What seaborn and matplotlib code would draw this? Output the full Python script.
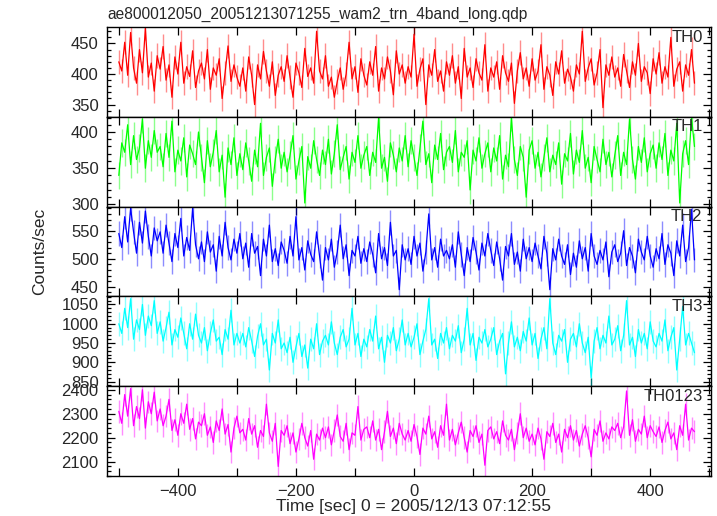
import numpy as np
import pandas as pd
import matplotlib
matplotlib.use("Agg")
import matplotlib.pyplot as plt
import seaborn as sns
from matplotlib.ticker import MultipleLocator

title = "ae800012050_20051213071255_wam2_trn_4band_long.qdp"
band_names = ["TH0", "TH1", "TH2", "TH3", "TH0123"]
band_colors = ["#ff0000", "#00ff00", "#0000ff", "#00ffff", "#ff00ff"]
xlabel = "Time [sec] 0 = 2005/12/13 07:12:55"
ylabel = "Counts/sec"

# bin centres (5 s bins)
time_sec = np.arange(-500, 480, 5)

th0 = [420, 405, 452, 398, 468, 410, 385, 440, 402, 475, 395, 418, 372, 430,
       408, 445, 390, 415, 362, 428, 400, 452, 385, 412, 396, 438, 378, 405,
       418, 392, 440, 375, 410, 398, 425, 360, 402, 446, 388, 415, 395, 380,
       410, 372, 428, 398, 350, 415, 392, 437, 405, 380, 420, 365, 398, 412,
       388, 430, 395, 362, 418, 402, 378, 442, 396, 410, 385, 470, 405, 392,
       430, 380, 395, 362, 388, 410, 375, 400, 452, 392, 412, 370, 425, 398,
       382, 420, 398, 445, 372, 410, 392, 428, 405, 366, 438, 400, 415, 385,
       412, 395, 465, 380, 408, 425, 350, 415, 398, 440, 388, 405, 372, 420,
       398, 430, 385, 412, 360, 442, 395, 410, 378, 425, 402, 390, 448, 372,
       410, 395, 420, 375, 430, 402, 388, 418, 352, 405, 435, 392, 410, 380,
       425, 390, 405, 448, 375, 412, 398, 365, 420, 400, 438, 385, 408, 395,
       372, 415, 400, 470, 388, 410, 425, 382, 402, 440, 345, 415, 398, 428,
       395, 410, 380, 432, 405, 378, 420, 398, 450, 388, 412, 402, 368, 425,
       400, 435, 385, 412, 395, 460, 380, 408, 420, 372, 415, 398, 440, 385]

th1 = [340, 385, 372, 410, 355, 395, 362, 378, 418, 350, 388, 365, 402, 372,
       380, 352, 398, 365, 415, 345, 375, 360, 392, 338, 382, 370, 355, 400,
       365, 330, 388, 352, 372, 402, 345, 368, 310, 378, 355, 392, 340, 370,
       348, 385, 360, 332, 375, 352, 412, 340, 365, 378, 325, 362, 390, 350,
       372, 345, 368, 395, 335, 360, 380, 302, 366, 350, 388, 362, 340, 375,
       355, 390, 342, 370, 410, 348, 365, 380, 335, 372, 358, 395, 350, 368,
       380, 340, 372, 358, 420, 350, 365, 332, 385, 368, 345, 378, 360, 395,
       352, 388, 365, 340, 378, 415, 355, 370, 330, 382, 362, 398, 348, 372,
       380, 358, 402, 345, 372, 365, 388, 320, 375, 360, 392, 350, 370, 385,
       345, 378, 360, 395, 335, 368, 352, 420, 362, 340, 380, 365, 310, 375,
       388, 350, 372, 338, 365, 392, 345, 368, 355, 385, 328, 370, 360, 398,
       342, 375, 358, 402, 350, 365, 330, 380, 362, 345, 390, 355, 372, 338,
       368, 395, 340, 372, 355, 418, 362, 335, 380, 358, 392, 345, 370, 382,
       350, 385, 362, 398, 340, 375, 360, 412, 302, 370, 388, 355, 420, 380]

th2 = [545, 520, 575, 530, 590, 548, 510, 565, 528, 585, 540, 505, 555, 532,
       548, 510, 560, 528, 495, 545, 520, 572, 505, 538, 515, 590, 525, 500,
       530, 495, 548, 512, 525, 478, 540, 505, 565, 520, 498, 535, 510, 545,
       500, 528, 485, 545, 510, 522, 470, 535, 505, 560, 495, 518, 488, 530,
       515, 492, 540, 505, 575, 498, 520, 480, 532, 508, 495, 548, 505, 462,
       520, 498, 535, 485, 512, 560, 500, 525, 470, 515, 505, 540, 492, 518,
       495, 530, 508, 475, 545, 500, 520, 488, 565, 505, 515, 445, 525, 498,
       518, 490, 540, 505, 528, 478, 512, 580, 498, 520, 485, 535, 505, 515,
       500, 525, 485, 548, 508, 470, 520, 495, 538, 512, 480, 528, 505, 545,
       515, 488, 530, 500, 462, 522, 505, 545, 490, 512, 478, 535, 500, 520,
       495, 528, 505, 482, 540, 510, 445, 518, 498, 535, 505, 490, 525, 472,
       510, 485, 532, 500, 520, 478, 545, 505, 490, 515, 498, 530, 468, 512,
       525, 495, 510, 550, 488, 520, 505, 475, 535, 512, 498, 540, 505, 485,
       518, 500, 545, 490, 525, 510, 470, 532, 505, 560, 495, 520, 588, 498]

th3 = [1000, 975, 1040, 990, 1065, 960, 1010, 985, 1050, 970, 1020, 995, 1060, 975,
       1005, 955, 990, 1030, 945, 985, 965, 1015, 975, 935, 1000, 960, 1025, 970,
       950, 990, 930, 975, 1010, 955, 965, 920, 985, 960, 1035, 945, 975, 950,
       975, 940, 990, 955, 915, 968, 1000, 945, 960, 880, 975, 950, 1010, 935,
       950, 925, 965, 900, 940, 975, 915, 945, 885, 960, 935, 1000, 920, 955,
       970, 945, 1005, 950, 920, 965, 985, 940, 960, 1040, 945, 975, 915, 960,
       940, 985, 955, 1020, 935, 965, 900, 970, 950, 990, 930, 960, 1010, 945,
       975, 940, 965, 1000, 920, 955, 985, 1065, 945, 960, 910, 975, 950, 990,
       935, 970, 955, 995, 925, 960, 1040, 945, 975, 905, 965, 950, 985, 940,
       960, 990, 920, 955, 975, 870, 950, 1005, 940, 965, 930, 980, 955, 1015,
       945, 975, 910, 960, 990, 935, 1065, 950, 920, 970, 955, 985, 900, 960,
       975, 940, 1000, 950, 925, 965, 860, 955, 990, 935, 970, 950, 1020, 945,
       960, 995, 930, 970, 1060, 945, 965, 915, 985, 950, 975, 935, 1005, 955,
       940, 975, 955, 1010, 930, 965, 990, 880, 960, 1045, 945, 975, 950, 925]

th0123 = [2310, 2260, 2380, 2290, 2405, 2250, 2330, 2280, 2400, 2240, 2350, 2300, 2390, 2270,
          2320, 2250, 2290, 2360, 2230, 2275, 2210, 2300, 2260, 2340, 2235, 2280, 2195, 2265,
          2250, 2300, 2210, 2245, 2180, 2270, 2230, 2320, 2215, 2255, 2140, 2240, 2290, 2220,
          2235, 2190, 2280, 2215, 2250, 2160, 2230, 2205, 2340, 2220, 2185, 2260, 2080, 2230,
          2210, 2250, 2175, 2220, 2140, 2195, 2260, 2200, 2165, 2230, 2110, 2215, 2190, 2240,
          2200, 2245, 2170, 2230, 2295, 2205, 2185, 2260, 2150, 2220, 2210, 2330, 2190, 2235,
          2245, 2200, 2270, 2190, 2235, 2150, 2225, 2310, 2205, 2240, 2175, 2260, 2215, 2190,
          2230, 2185, 2255, 2205, 2130, 2240, 2215, 2290, 2195, 2225, 2160, 2250, 2210, 2340,
          2190, 2235, 2170, 2220, 2265, 2200, 2140, 2230, 2205, 2250, 2180, 2215, 2085, 2230,
          2245, 2195, 2225, 2175, 2270, 2210, 2190, 2235, 2150, 2220, 2300, 2200, 2240, 2185,
          2215, 2170, 2240, 2195, 2110, 2225, 2205, 2260, 2180, 2215, 2140, 2235, 2200, 2250,
          2190, 2230, 2165, 2215, 2250, 2200, 2120, 2235, 2210, 2270, 2185, 2220, 2195, 2245,
          2230, 2260, 2200, 2245, 2395, 2210, 2275, 2185, 2235, 2215, 2290, 2200, 2250, 2225,
          2205, 2245, 2180, 2230, 2265, 2195, 2220, 2150, 2250, 2210, 2340, 2190, 2240, 2225]

band_rates = [th0, th1, th2, th3, th0123]
band_errors = [20, 19, 22, 31, 47]

y_limits = [(330, 477), (297, 421), (433, 593), (838, 1071), (2040, 2415)]
y_major = [50, 50, 50, 50, 100]
y_minor = [10, 10, 10, 10, 20]

sns.set_style("white")
plt.rcParams["font.family"] = ["Liberation Sans", "DejaVu Sans"]

fig = plt.figure(figsize=(7.17, 5.16), dpi=100)
left, right = 107 / 717, 711 / 717
top, bottom = 1 - 27 / 516, 1 - 476 / 516
h = (top - bottom) / 5

for i, (name, col, rates, err, ylim, ymaj, ymin) in enumerate(
        zip(band_names, band_colors, band_rates, band_errors, y_limits, y_major, y_minor)):
    ax = fig.add_axes([left, top - (i + 1) * h, right - left, h])
    df = pd.DataFrame({"time": time_sec, "rate": rates})
    ax.vlines(df["time"], df["rate"] - err, df["rate"] + err, color=col, lw=1.0, alpha=0.45)
    sns.lineplot(data=df, x="time", y="rate", ax=ax, color=col, lw=0.9,
                 estimator=None, sort=False)
    ax.set_xlim(-520, 503)
    ax.set_ylim(*ylim)
    ax.set_xlabel("")
    ax.set_ylabel("")
    ax.xaxis.set_major_locator(MultipleLocator(200))
    ax.xaxis.set_minor_locator(MultipleLocator(100))
    ax.yaxis.set_major_locator(MultipleLocator(ymaj))
    ax.yaxis.set_minor_locator(MultipleLocator(ymin))
    ax.tick_params(which="both", direction="in", top=True, right=True, bottom=True, left=True,
                   color="black", width=0.9)
    ax.tick_params(which="major", length=6, labelsize=12, pad=6)
    ax.tick_params(axis="x", which="minor", length=6)
    ax.tick_params(axis="y", which="minor", length=3)
    for sp in ax.spines.values():
        sp.set_color("black")
        sp.set_linewidth(1.0)
    if i < 4:
        ax.tick_params(axis="x", labelbottom=False)
    ax.text(0.986, 0.97, name, transform=ax.transAxes, ha="right", va="top", fontsize=12)

fig.text(left, 1 - 14 / 516, title, ha="left", va="center", fontsize=11.2)
fig.text(40 / 717, 1 - 251 / 516, ylabel, rotation=90, ha="center", va="center", fontsize=12.5)
fig.text(414 / 717, 1 - 507 / 516, xlabel, ha="center", va="center", fontsize=12.6)

fig.savefig("out.png", dpi=100)
